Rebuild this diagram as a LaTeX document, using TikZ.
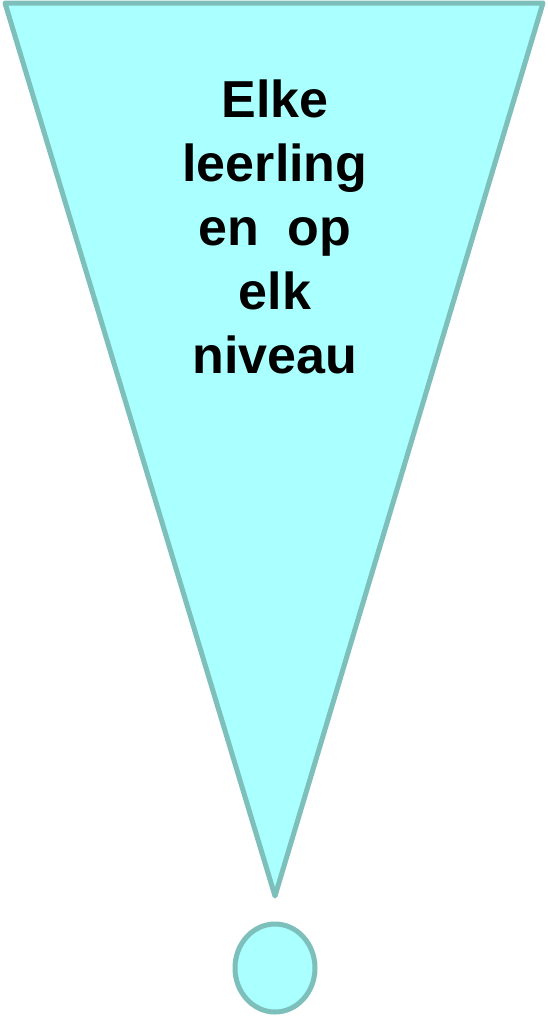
\documentclass[tikz,border=0pt]{standalone}
\usepackage{fontspec}
\setmainfont{Liberation Sans}
\usetikzlibrary{shapes.geometric}
\definecolor{shapefill}{HTML}{AAFFFF}
\definecolor{shapeline}{HTML}{7CBFBB}
\begin{document}
\begin{tikzpicture}[x=1pt,y=-1pt,
  markshape/.style={draw=shapeline,fill=shapefill,line width=5pt,line join=round},
  marktext/.style={font=\bfseries\fontsize{52}{64}\selectfont,align=center,inner sep=0pt,anchor=north}]
\useasboundingbox (0,0) rectangle (547,1017);
\coordinate (tl) at (5,3);
\coordinate (tr) at (543,3);
\coordinate (apex) at (275,896);
\draw[markshape] (tl) -- (tr) -- (apex) -- cycle;
\node[markshape,ellipse,minimum width=80pt,minimum height=88pt,inner sep=0pt] (dot) at (275,968) {};
\node[marktext] (label) at (275,80) {Elke\\leerling\\en~~op\\elk\\niveau};
\end{tikzpicture}
\end{document}
